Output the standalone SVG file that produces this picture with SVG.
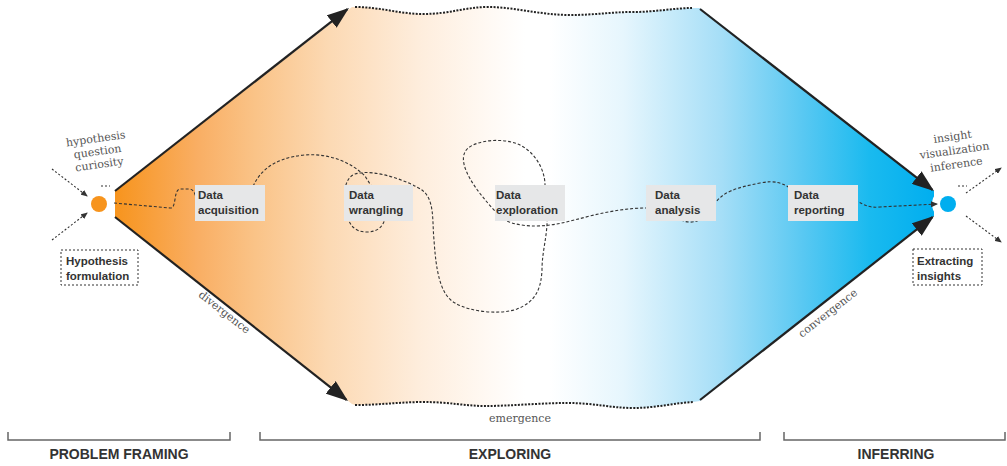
<svg xmlns="http://www.w3.org/2000/svg" width="1007" height="466" viewBox="0 0 1007 466">
<style>
.node rect{fill:#E6E7E8}
.node text,.note text{font-family:"Liberation Sans",Arial,sans-serif;font-weight:bold;font-size:11.5px;fill:#333}
.note rect{fill:#fff;stroke:#333;stroke-width:1;stroke-dasharray:2,2}
.serif{font-family:"DejaVu Serif","Liberation Serif",serif;font-size:11px;fill:#555}
.phase{font-family:"Liberation Sans",Arial,sans-serif;font-weight:bold;font-size:14px;fill:#333;text-anchor:middle}
.edge{fill:none;stroke:#222;stroke-width:2.2}
.wave{fill:none;stroke:#222;stroke-width:2;stroke-dasharray:2,1.4}
.dots{fill:none;stroke:#333;stroke-width:1.1;stroke-dasharray:2,2}
.path{fill:none;stroke:#333;stroke-width:1.1;stroke-dasharray:3,2}
.bracket{fill:none;stroke:#666;stroke-width:1.5}
</style>
<defs>
<linearGradient id="g" gradientUnits="userSpaceOnUse" x1="115" y1="0" x2="935" y2="0">
<stop offset="0" stop-color="#F7941D"/>
<stop offset="0.1" stop-color="#F9AE63"/>
<stop offset="0.17" stop-color="#FAC387"/>
<stop offset="0.26" stop-color="#FCD9B3"/>
<stop offset="0.37" stop-color="#FEEDDC"/>
<stop offset="0.46" stop-color="#FFFAF5"/>
<stop offset="0.5" stop-color="#FFFFFF"/>
<stop offset="0.53" stop-color="#FFFFFF"/>
<stop offset="0.62" stop-color="#E6F6FD"/>
<stop offset="0.74" stop-color="#A5DEF7"/>
<stop offset="0.84" stop-color="#58C8F2"/>
<stop offset="0.92" stop-color="#1ABAEF"/>
<stop offset="1" stop-color="#00AEEF"/>
</linearGradient>
<marker id="big" viewBox="0 0 22 16" refX="20" refY="8" markerWidth="22" markerHeight="16" markerUnits="userSpaceOnUse" orient="auto">
<path d="M0,0 L22,8 L0,16 Z" fill="#222"/>
</marker>
<marker id="small" viewBox="0 0 7 6" refX="6" refY="3" markerWidth="7" markerHeight="6" markerUnits="userSpaceOnUse" orient="auto">
<path d="M0,0 L7,3 L0,6 Z" fill="#333"/>
</marker>
</defs>

<g id="funnel">
<path fill="url(#g)" d="M115,191 L352,7 L355,7 C380,7 400,14 423,14 C450,14 465,7 488,7 C515,7 540,15 570,15 C595,15 610,12 633,12 C655,12 675,8 692,8 L700,8 L934,191 L934,216 L700,401 L693,402 C675,403 655,408 633,408 C610,408 595,403 567,403 C540,403 510,406 485,406 C465,406 450,402 423,402 C400,402 380,405 355,405 L352,404 L115,217 Z"/>
<path class="wave" d="M355,7 C380,7 400,14 423,14 C450,14 465,7 488,7 C515,7 540,15 570,15 C595,15 610,12 633,12 C655,12 675,8 692,8"/>
<path class="wave" d="M355,405 C380,405 400,402 423,402 C450,402 465,406 485,406 C510,406 540,403 567,403 C595,403 610,408 633,408 C655,408 675,403 693,402"/>
<line class="edge" x1="115" y1="191" x2="347.4" y2="9.2" marker-end="url(#big)"/>
<line class="edge" x1="115" y1="217" x2="346.4" y2="399.8" marker-end="url(#big)"/>
<line class="edge" x1="700" y1="9" x2="932.4" y2="189.8" marker-end="url(#big)"/>
<line class="edge" x1="700" y1="400" x2="932.4" y2="217.2" marker-end="url(#big)"/>
<text class="serif" transform="translate(222,315) rotate(38)" text-anchor="middle">divergence</text>
<text class="serif" transform="translate(830,316) rotate(-38)" text-anchor="middle">convergence</text>
<text class="serif" x="520" y="422" text-anchor="middle">emergence</text>
</g>

<g id="start">
<circle cx="99" cy="204" r="16" fill="#fff"/>
<circle cx="99" cy="204" r="8" fill="#F7941D"/>
<line class="dots" x1="101" y1="186" x2="110" y2="186"/>
<g transform="rotate(-8 99 155)">
<text class="serif" x="98" y="142" text-anchor="middle">hypothesis</text>
<text class="serif" x="98" y="155" text-anchor="middle">question</text>
<text class="serif" x="98" y="168" text-anchor="middle">curiosity</text>
</g>
</g>

<g id="end">
<circle cx="948" cy="204" r="16" fill="#fff"/>
<circle cx="948" cy="204" r="8" fill="#00AEEF"/>
<line class="dots" x1="958" y1="186" x2="967" y2="186"/>
<g transform="rotate(-8 956 154)">
<text class="serif" x="955" y="140" text-anchor="middle">insight</text>
<text class="serif" x="955" y="154" text-anchor="middle">visualization</text>
<text class="serif" x="955" y="168" text-anchor="middle">inference</text>
</g>
</g>

<g id="connectors">
<line class="dots" x1="52" y1="169" x2="87" y2="196" marker-end="url(#small)"/>
<line class="dots" x1="52" y1="240" x2="87" y2="213" marker-end="url(#small)"/>
<line class="dots" x1="966" y1="193" x2="1001" y2="168" marker-end="url(#small)"/>
<line class="dots" x1="966" y1="216" x2="1001" y2="242" marker-end="url(#small)"/>
<path class="path" marker-end="url(#small)" d="M114,203 L170,208 C177,209 173,190 180,189 L189,189 C194,189 195,194 196,198 L250,196 C255,175 270,158 305,155 C330,153 352,163 365,176 L380,200 C390,215 385,232 367,232 C352,232 348,222 346,210 C343,195 344,178 355,174 C375,168 410,182 422,190 C435,200 432,220 434,240 C436,270 440,295 455,303 C470,312 500,315 517,309 C535,302 541,290 542,270 C542,250 548,235 547,215 L545,185 C545,170 535,150 515,143 C495,137 470,142 465,152 C458,165 475,190 496,212 C500,222 520,226 535,226 C555,226 570,221 590,216 C610,211 630,208 646,208 L670,210 C680,225 695,224 702,218 L714,205 C722,192 735,188 760,183 C775,180 782,183 790,188 L855,200 C865,205 868,208 880,207 L937,204"/>
</g>

<g id="node-acquisition" class="node"><rect x="195" y="185" width="70" height="36"/><text x="198" y="199">Data</text><text x="198" y="214">acquisition</text></g>
<g id="node-wrangling" class="node"><rect x="344" y="185" width="69" height="36"/><text x="349" y="199">Data</text><text x="349" y="214">wrangling</text></g>
<g id="node-exploration" class="node"><rect x="495" y="185" width="70" height="36"/><text x="496" y="199">Data</text><text x="496" y="214">exploration</text></g>
<g id="node-analysis" class="node"><rect x="646" y="185" width="70" height="36"/><text x="655" y="199">Data</text><text x="655" y="214">analysis</text></g>
<g id="node-reporting" class="node"><rect x="788" y="185" width="70" height="36"/><text x="794" y="199">Data</text><text x="794" y="214">reporting</text></g>
<g id="note-hypothesis" class="note"><rect x="61" y="250" width="77" height="35"/><text x="66" y="265">Hypothesis</text><text x="66" y="280">formulation</text></g>
<g id="note-insights" class="note"><rect x="913" y="249" width="69" height="36"/><text x="917" y="265">Extracting</text><text x="917" y="280">insights</text></g>

<g id="phases">
<path class="bracket" d="M8,432 V440 H230 V432"/>
<path class="bracket" d="M260,432 V440 H760 V432"/>
<path class="bracket" d="M784,432 V440 H1005 V432"/>
<text class="phase" x="119" y="459">PROBLEM FRAMING</text>
<text class="phase" x="510" y="459">EXPLORING</text>
<text class="phase" x="896" y="459">INFERRING</text>
</g>
</svg>
